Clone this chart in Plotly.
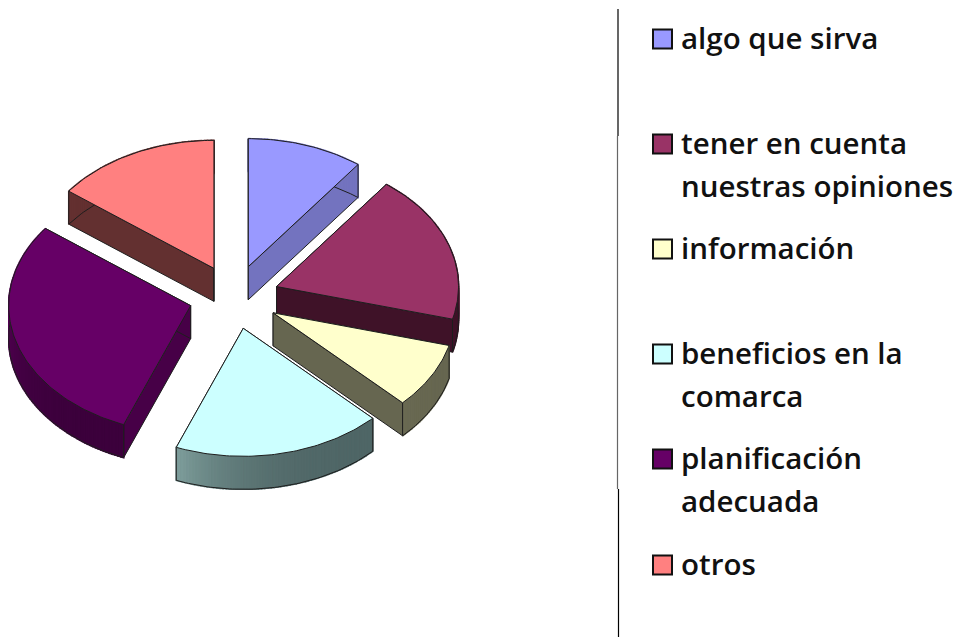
import math
import plotly.graph_objects as go

# Data
categories = ["algo que sirva", "tener en cuenta nuestras opiniones", "información",
              "beneficios en la comarca", "planificación adecuada", "otros"]
values = [10.3, 18.8, 8.3, 18.6, 29.3, 14.7]
legend_lines = [["algo que sirva"], ["tener en cuenta", "nuestras opiniones"], ["información"],
                ["beneficios en la", "comarca"], ["planificación", "adecuada"], ["otros"]]

# Styles
top_colors = ["#9999FF", "#993366", "#FFFFCC", "#CCFFFF", "#660066", "#FF8080"]
cut_colors = ["#7373BF", "#3F1228", "#666650", "#4F6666", "#470047", "#633030"]
rim_start = ["#7373BF", "#3F1228", "#666650", "#4F6666", "#3C003C", "#633030"]
rim_end = ["#7373BF", "#3F1228", "#6A6A53", "#7F9F9D", "#520052", "#633030"]
draw_order = [5, 0, 1, 2, 4, 3]
legend_y = [39, 144, 249, 354, 459, 565]
line_gap = 43

# Projection of the tilted, exploded pie into picture space
CX, CY = 234, 297
RX, RY = 182, 128
EX, EY = 45, 32
DEPTH = 33


def hex_mix(a, b, t):
    pa = [int(a[i:i + 2], 16) for i in (1, 3, 5)]
    pb = [int(b[i:i + 2], 16) for i in (1, 3, 5)]
    return "#" + "".join(f"{round(x + (y - x) * t):02X}" for x, y in zip(pa, pb))


def poly(xs, ys, fill, line="#1E1E1E", width=1):
    return go.Scatter(x=xs, y=ys, mode="lines", fill="toself", fillcolor=fill,
                      line=dict(color=line, width=width), showlegend=False, hoverinfo="skip")


fig = go.Figure()
total = sum(values)
starts, acc = [], 0.0
for v in values:
    starts.append(acc)
    acc += v / total * 360

for i in draw_order:
    a0 = starts[i]
    a1 = a0 + values[i] / total * 360
    mid = math.radians((a0 + a1) / 2)
    ax = CX + EX * math.sin(mid)
    ay = CY - EY * math.cos(mid)
    n = max(4, int(a1 - a0))
    angs = [math.radians(a0 + (a1 - a0) * k / n) for k in range(n + 1)]
    ox = [ax + RX * math.sin(t) for t in angs]
    oy = [ay - RY * math.cos(t) for t in angs]
    # cut faces
    for px, py in ((ox[0], oy[0]), (ox[-1], oy[-1])):
        fig.add_trace(poly([ax, px, px, ax, ax], [ay, py, py + DEPTH, ay + DEPTH, ay], cut_colors[i]))
    # rim, shaded along its visible part
    for k in range(n):
        deg = math.degrees(angs[k])
        t = min(1.0, max(0.0, (deg - max(a0, 90)) / max(1.0, min(a1, 270) - max(a0, 90))))
        c = hex_mix(rim_start[i], rim_end[i], t ** 3)
        fig.add_trace(poly([ox[k], ox[k + 1], ox[k + 1], ox[k], ox[k]],
                           [oy[k], oy[k + 1], oy[k + 1] + DEPTH, oy[k] + DEPTH, oy[k]], c, line=c, width=1.6))
    fig.add_trace(go.Scatter(x=[ox[0]] + ox + [ox[-1]] + [None] + [ox[0], ox[0]],
                             y=[oy[0] + DEPTH] + [y + DEPTH for y in oy] + [oy[-1]] + [None] + [oy[0], oy[0] + DEPTH],
                             mode="lines", line=dict(color="#1E1E1E", width=1),
                             showlegend=False, hoverinfo="skip"))
    # top face
    fig.add_trace(poly([ax] + ox + [ax], [ay] + oy + [ay], top_colors[i]))

# Separator line
for ys, col, x in (([9, 136], "#000000", 618), ([136, 489], "#666666", 617.5), ([489, 637], "#000000", 618.5)):
    fig.add_trace(go.Scatter(x=[x, x], y=ys, mode="lines", line=dict(color=col, width=1.2),
                             showlegend=False, hoverinfo="skip"))

# Legend
fig.add_trace(go.Scatter(x=[662.5] * len(categories), y=legend_y, mode="markers",
                         marker=dict(symbol="square", size=19, color=top_colors,
                                     line=dict(color="#111111", width=2)),
                         showlegend=False, hovertext=categories, hoverinfo="text"))
for lines, y in zip(legend_lines, legend_y):
    for j, txt in enumerate(lines):
        fig.add_annotation(x=679, y=y - 2 + j * line_gap, text=txt, showarrow=False, xanchor="left",
                           yanchor="middle", font=dict(family="Open Sans", size=29.5, color="#111111", weight=600))

# The page keeps an 8 px body margin, so the plot area starts at (8, 8) of the window
fig.update_layout(width=968, height=629, margin=dict(l=0, r=0, t=0, b=0),
                  paper_bgcolor="white", plot_bgcolor="white",
                  xaxis=dict(range=[8, 976], visible=False, fixedrange=True),
                  yaxis=dict(range=[637, 8], visible=False, fixedrange=True))
fig.write_html("out.html")
